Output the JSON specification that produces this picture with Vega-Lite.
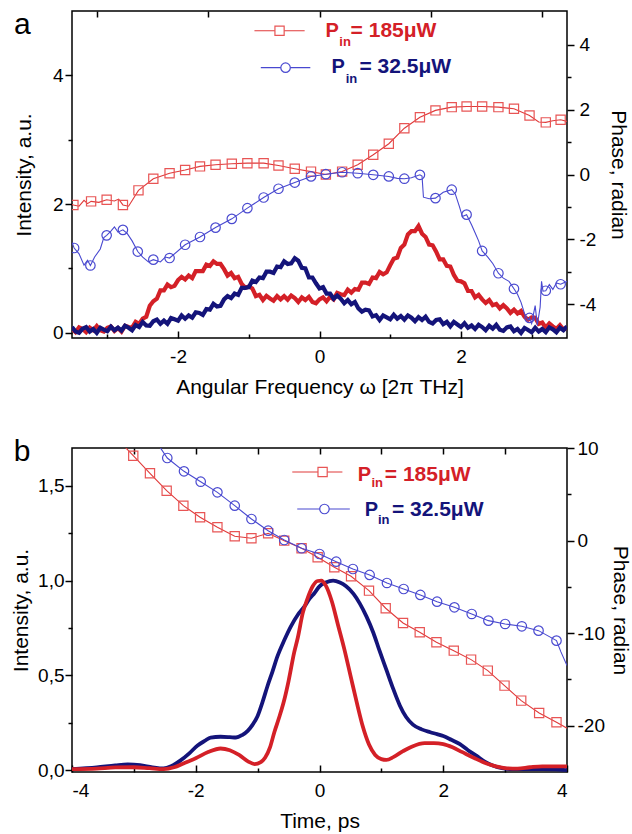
{
"$schema": "https://vega.github.io/schema/vega-lite/v6.json",
"padding": {"left": 9, "top": 9, "right": 0, "bottom": 2},
"background": "white",
"config": {
  "font": "Liberation Sans",
  "view": {"stroke": "#000", "strokeWidth": 1.5},
  "axis": {"domain": false, "grid": false, "labelFont": "Liberation Sans", "titleFont": "Liberation Sans", "labelFontSize": 19, "titleFontSize": 21, "titleFontWeight": "normal", "labelColor": "#000", "titleColor": "#000", "tickColor": "#000", "tickWidth": 1.5},
  "concat": {"spacing": 38}
},
"datasets": {
  "ia": [
    {"s":"185","x":-3.50,"y":0.06},{"s":"185","x":-3.45,"y":0.01},{"s":"185","x":-3.40,"y":0.085},{"s":"185","x":-3.35,"y":0.06},{"s":"185","x":-3.30,"y":0.01},{"s":"185","x":-3.25,"y":0.08},{"s":"185","x":-3.20,"y":0.04},{"s":"185","x":-3.15,"y":0.105},{"s":"185","x":-3.10,"y":0.04},{"s":"185","x":-3.05,"y":0.02},
    {"s":"185","x":-3.00,"y":0.08},{"s":"185","x":-2.95,"y":0.10},{"s":"185","x":-2.90,"y":0.03},{"s":"185","x":-2.85,"y":0.075},{"s":"185","x":-2.80,"y":0.02},{"s":"185","x":-2.75,"y":0.11},{"s":"185","x":-2.70,"y":0.09},{"s":"185","x":-2.65,"y":0.08},{"s":"185","x":-2.60,"y":0.17},{"s":"185","x":-2.55,"y":0.14},
    {"s":"185","x":-2.50,"y":0.22},{"s":"185","x":-2.45,"y":0.25},{"s":"185","x":-2.40,"y":0.42},{"s":"185","x":-2.35,"y":0.49},{"s":"185","x":-2.30,"y":0.53},{"s":"185","x":-2.25,"y":0.66},{"s":"185","x":-2.20,"y":0.66},{"s":"185","x":-2.15,"y":0.75},{"s":"185","x":-2.10,"y":0.71},{"s":"185","x":-2.05,"y":0.73},
    {"s":"185","x":-2.00,"y":0.82},{"s":"185","x":-1.95,"y":0.87},{"s":"185","x":-1.90,"y":0.83},{"s":"185","x":-1.85,"y":0.89},{"s":"185","x":-1.80,"y":0.85},{"s":"185","x":-1.75,"y":0.96},{"s":"185","x":-1.70,"y":0.96},{"s":"185","x":-1.65,"y":0.96},{"s":"185","x":-1.60,"y":1.06},{"s":"185","x":-1.55,"y":1.04},
    {"s":"185","x":-1.50,"y":1.11},{"s":"185","x":-1.45,"y":1.07},{"s":"185","x":-1.40,"y":1.07},{"s":"185","x":-1.35,"y":0.99},{"s":"185","x":-1.30,"y":0.89},{"s":"185","x":-1.25,"y":0.93},{"s":"185","x":-1.20,"y":0.85},{"s":"185","x":-1.15,"y":0.87},{"s":"185","x":-1.10,"y":0.76},{"s":"185","x":-1.05,"y":0.70},
    {"s":"185","x":-1.00,"y":0.72},{"s":"185","x":-0.95,"y":0.69},{"s":"185","x":-0.90,"y":0.57},{"s":"185","x":-0.85,"y":0.59},{"s":"185","x":-0.80,"y":0.51},{"s":"185","x":-0.75,"y":0.575},{"s":"185","x":-0.70,"y":0.535},{"s":"185","x":-0.65,"y":0.50},{"s":"185","x":-0.60,"y":0.57},{"s":"185","x":-0.55,"y":0.52},
    {"s":"185","x":-0.50,"y":0.57},{"s":"185","x":-0.45,"y":0.515},{"s":"185","x":-0.40,"y":0.58},{"s":"185","x":-0.35,"y":0.54},{"s":"185","x":-0.30,"y":0.48},{"s":"185","x":-0.25,"y":0.55},{"s":"185","x":-0.20,"y":0.51},{"s":"185","x":-0.15,"y":0.56},{"s":"185","x":-0.10,"y":0.48},{"s":"185","x":-0.05,"y":0.46},
    {"s":"185","x":0.00,"y":0.52},{"s":"185","x":0.05,"y":0.55},{"s":"185","x":0.10,"y":0.49},{"s":"185","x":0.15,"y":0.56},{"s":"185","x":0.20,"y":0.52},{"s":"185","x":0.25,"y":0.62},{"s":"185","x":0.30,"y":0.60},{"s":"185","x":0.35,"y":0.585},{"s":"185","x":0.40,"y":0.67},{"s":"185","x":0.45,"y":0.625},
    {"s":"185","x":0.50,"y":0.68},{"s":"185","x":0.55,"y":0.67},{"s":"185","x":0.60,"y":0.78},{"s":"185","x":0.65,"y":0.78},{"s":"185","x":0.70,"y":0.76},{"s":"185","x":0.75,"y":0.86},{"s":"185","x":0.80,"y":0.85},{"s":"185","x":0.85,"y":0.945},{"s":"185","x":0.90,"y":0.91},{"s":"185","x":0.95,"y":0.94},
    {"s":"185","x":1.00,"y":1.05},{"s":"185","x":1.05,"y":1.15},{"s":"185","x":1.10,"y":1.17},{"s":"185","x":1.15,"y":1.32},{"s":"185","x":1.20,"y":1.37},{"s":"185","x":1.25,"y":1.53},{"s":"185","x":1.30,"y":1.58},{"s":"185","x":1.35,"y":1.58},{"s":"185","x":1.40,"y":1.66},{"s":"185","x":1.45,"y":1.54},
    {"s":"185","x":1.50,"y":1.49},{"s":"185","x":1.55,"y":1.37},{"s":"185","x":1.60,"y":1.36},{"s":"185","x":1.65,"y":1.26},{"s":"185","x":1.70,"y":1.14},{"s":"185","x":1.75,"y":1.14},{"s":"185","x":1.80,"y":1.04},{"s":"185","x":1.85,"y":1.03},{"s":"185","x":1.90,"y":0.90},{"s":"185","x":1.95,"y":0.81},
    {"s":"185","x":2.00,"y":0.80},{"s":"185","x":2.05,"y":0.77},{"s":"185","x":2.10,"y":0.65},{"s":"185","x":2.15,"y":0.65},{"s":"185","x":2.20,"y":0.55},{"s":"185","x":2.25,"y":0.59},{"s":"185","x":2.30,"y":0.52},{"s":"185","x":2.35,"y":0.465},{"s":"185","x":2.40,"y":0.51},{"s":"185","x":2.45,"y":0.43},
    {"s":"185","x":2.50,"y":0.45},{"s":"185","x":2.55,"y":0.38},{"s":"185","x":2.60,"y":0.43},{"s":"185","x":2.65,"y":0.38},{"s":"185","x":2.70,"y":0.31},{"s":"185","x":2.75,"y":0.36},{"s":"185","x":2.80,"y":0.30},{"s":"185","x":2.85,"y":0.34},{"s":"185","x":2.90,"y":0.25},{"s":"185","x":2.95,"y":0.205},
    {"s":"185","x":3.00,"y":0.24},{"s":"185","x":3.05,"y":0.235},{"s":"185","x":3.10,"y":0.14},{"s":"185","x":3.15,"y":0.16},{"s":"185","x":3.20,"y":0.08},{"s":"185","x":3.25,"y":0.145},{"s":"185","x":3.30,"y":0.10},{"s":"185","x":3.35,"y":0.06},{"s":"185","x":3.40,"y":0.12},{"s":"185","x":3.45,"y":0.05},{"s":"185","x":3.50,"y":0.08},
    {"s":"32.5","x":-3.50,"y":0.09},{"s":"32.5","x":-3.45,"y":0.02},{"s":"32.5","x":-3.40,"y":0.00},{"s":"32.5","x":-3.35,"y":0.065},{"s":"32.5","x":-3.30,"y":0.09},{"s":"32.5","x":-3.25,"y":0.02},{"s":"32.5","x":-3.20,"y":0.06},{"s":"32.5","x":-3.15,"y":0.00},{"s":"32.5","x":-3.10,"y":0.08},{"s":"32.5","x":-3.05,"y":0.05},
    {"s":"32.5","x":-3.00,"y":0.025},{"s":"32.5","x":-2.95,"y":0.095},{"s":"32.5","x":-2.90,"y":0.04},{"s":"32.5","x":-2.85,"y":0.08},{"s":"32.5","x":-2.80,"y":0.035},{"s":"32.5","x":-2.75,"y":0.11},{"s":"32.5","x":-2.70,"y":0.08},{"s":"32.5","x":-2.65,"y":0.04},{"s":"32.5","x":-2.60,"y":0.12},{"s":"32.5","x":-2.55,"y":0.09},
    {"s":"32.5","x":-2.50,"y":0.17},{"s":"32.5","x":-2.45,"y":0.115},{"s":"32.5","x":-2.40,"y":0.11},{"s":"32.5","x":-2.35,"y":0.18},{"s":"32.5","x":-2.30,"y":0.205},{"s":"32.5","x":-2.25,"y":0.14},{"s":"32.5","x":-2.20,"y":0.19},{"s":"32.5","x":-2.15,"y":0.14},{"s":"32.5","x":-2.10,"y":0.23},{"s":"32.5","x":-2.05,"y":0.21},
    {"s":"32.5","x":-2.00,"y":0.19},{"s":"32.5","x":-1.95,"y":0.27},{"s":"32.5","x":-1.90,"y":0.22},{"s":"32.5","x":-1.85,"y":0.27},{"s":"32.5","x":-1.80,"y":0.235},{"s":"32.5","x":-1.75,"y":0.32},{"s":"32.5","x":-1.70,"y":0.31},{"s":"32.5","x":-1.65,"y":0.28},{"s":"32.5","x":-1.60,"y":0.37},{"s":"32.5","x":-1.55,"y":0.36},
    {"s":"32.5","x":-1.50,"y":0.45},{"s":"32.5","x":-1.45,"y":0.41},{"s":"32.5","x":-1.40,"y":0.42},{"s":"32.5","x":-1.35,"y":0.52},{"s":"32.5","x":-1.30,"y":0.57},{"s":"32.5","x":-1.25,"y":0.54},{"s":"32.5","x":-1.20,"y":0.61},{"s":"32.5","x":-1.15,"y":0.59},{"s":"32.5","x":-1.10,"y":0.70},{"s":"32.5","x":-1.05,"y":0.70},
    {"s":"32.5","x":-1.00,"y":0.71},{"s":"32.5","x":-0.95,"y":0.81},{"s":"32.5","x":-0.90,"y":0.79},{"s":"32.5","x":-0.85,"y":0.86},{"s":"32.5","x":-0.80,"y":0.85},{"s":"32.5","x":-0.75,"y":0.95},{"s":"32.5","x":-0.70,"y":0.95},{"s":"32.5","x":-0.65,"y":0.93},{"s":"32.5","x":-0.60,"y":1.03},{"s":"32.5","x":-0.55,"y":1.02},
    {"s":"32.5","x":-0.50,"y":1.11},{"s":"32.5","x":-0.45,"y":1.07},{"s":"32.5","x":-0.40,"y":1.08},{"s":"32.5","x":-0.35,"y":1.16},{"s":"32.5","x":-0.30,"y":1.12},{"s":"32.5","x":-0.25,"y":1.01},{"s":"32.5","x":-0.20,"y":1.00},{"s":"32.5","x":-0.15,"y":0.86},{"s":"32.5","x":-0.10,"y":0.86},{"s":"32.5","x":-0.05,"y":0.77},
    {"s":"32.5","x":0.00,"y":0.69},{"s":"32.5","x":0.05,"y":0.71},{"s":"32.5","x":0.10,"y":0.61},{"s":"32.5","x":0.15,"y":0.61},{"s":"32.5","x":0.20,"y":0.53},{"s":"32.5","x":0.25,"y":0.58},{"s":"32.5","x":0.30,"y":0.53},{"s":"32.5","x":0.35,"y":0.46},{"s":"32.5","x":0.40,"y":0.51},{"s":"32.5","x":0.45,"y":0.445},
    {"s":"32.5","x":0.50,"y":0.48},{"s":"32.5","x":0.55,"y":0.38},{"s":"32.5","x":0.60,"y":0.33},{"s":"32.5","x":0.65,"y":0.36},{"s":"32.5","x":0.70,"y":0.35},{"s":"32.5","x":0.75,"y":0.255},{"s":"32.5","x":0.80,"y":0.275},{"s":"32.5","x":0.85,"y":0.20},{"s":"32.5","x":0.90,"y":0.27},{"s":"32.5","x":0.95,"y":0.24},
    {"s":"32.5","x":1.00,"y":0.21},{"s":"32.5","x":1.05,"y":0.28},{"s":"32.5","x":1.10,"y":0.22},{"s":"32.5","x":1.15,"y":0.26},{"s":"32.5","x":1.20,"y":0.205},{"s":"32.5","x":1.25,"y":0.27},{"s":"32.5","x":1.30,"y":0.235},{"s":"32.5","x":1.35,"y":0.18},{"s":"32.5","x":1.40,"y":0.245},{"s":"32.5","x":1.45,"y":0.20},
    {"s":"32.5","x":1.50,"y":0.25},{"s":"32.5","x":1.55,"y":0.17},{"s":"32.5","x":1.60,"y":0.145},{"s":"32.5","x":1.65,"y":0.20},{"s":"32.5","x":1.70,"y":0.21},{"s":"32.5","x":1.75,"y":0.135},{"s":"32.5","x":1.80,"y":0.17},{"s":"32.5","x":1.85,"y":0.10},{"s":"32.5","x":1.90,"y":0.17},{"s":"32.5","x":1.95,"y":0.13},
    {"s":"32.5","x":2.00,"y":0.09},{"s":"32.5","x":2.05,"y":0.15},{"s":"32.5","x":2.10,"y":0.08},{"s":"32.5","x":2.15,"y":0.115},{"s":"32.5","x":2.20,"y":0.06},{"s":"32.5","x":2.25,"y":0.125},{"s":"32.5","x":2.30,"y":0.09},{"s":"32.5","x":2.35,"y":0.04},{"s":"32.5","x":2.40,"y":0.11},{"s":"32.5","x":2.45,"y":0.065},
    {"s":"32.5","x":2.50,"y":0.125},{"s":"32.5","x":2.55,"y":0.05},{"s":"32.5","x":2.60,"y":0.03},{"s":"32.5","x":2.65,"y":0.085},{"s":"32.5","x":2.70,"y":0.10},{"s":"32.5","x":2.75,"y":0.025},{"s":"32.5","x":2.80,"y":0.06},{"s":"32.5","x":2.85,"y":0.00},{"s":"32.5","x":2.90,"y":0.075},{"s":"32.5","x":2.95,"y":0.045},
    {"s":"32.5","x":3.00,"y":0.01},{"s":"32.5","x":3.05,"y":0.08},{"s":"32.5","x":3.10,"y":0.02},{"s":"32.5","x":3.15,"y":0.06},{"s":"32.5","x":3.20,"y":0.01},{"s":"32.5","x":3.25,"y":0.085},{"s":"32.5","x":3.30,"y":0.055},{"s":"32.5","x":3.35,"y":0.01},{"s":"32.5","x":3.40,"y":0.08},{"s":"32.5","x":3.45,"y":0.04},{"s":"32.5","x":3.50,"y":0.10}
  ],
  "pa": [
    {"s":"185","x":-3.50,"y":-0.92,"m":0},{"s":"185","x":-3.48,"y":-0.94,"m":1},{"s":"185","x":-3.40,"y":-0.98,"m":0},{"s":"185","x":-3.33,"y":-0.80,"m":0},{"s":"185","x":-3.28,"y":-0.90,"m":0},{"s":"185","x":-3.23,"y":-0.83,"m":1},{"s":"185","x":-3.12,"y":-0.86,"m":0},{"s":"185","x":-3.01,"y":-0.78,"m":1},{"s":"185","x":-2.90,"y":-0.82,"m":0},{"s":"185","x":-2.84,"y":-0.76,"m":0},{"s":"185","x":-2.78,"y":-0.94,"m":1},{"s":"185","x":-2.70,"y":-0.98,"m":0},
    {"s":"185","x":-2.56,"y":-0.49,"m":1},{"s":"185","x":-2.35,"y":-0.13,"m":1},{"s":"185","x":-2.12,"y":0.04,"m":1},{"s":"185","x":-1.90,"y":0.14,"m":1},{"s":"185","x":-1.69,"y":0.25,"m":1},{"s":"185","x":-1.47,"y":0.30,"m":1},{"s":"185","x":-1.24,"y":0.33,"m":1},{"s":"185","x":-1.02,"y":0.35,"m":1},{"s":"185","x":-0.79,"y":0.35,"m":1},{"s":"185","x":-0.58,"y":0.28,"m":1},{"s":"185","x":-0.35,"y":0.18,"m":1},{"s":"185","x":-0.12,"y":0.09,"m":1},
    {"s":"185","x":0.09,"y":0.00,"m":1},{"s":"185","x":0.32,"y":0.09,"m":1},{"s":"185","x":0.54,"y":0.30,"m":1},{"s":"185","x":0.76,"y":0.61,"m":1},{"s":"185","x":0.98,"y":0.95,"m":1},{"s":"185","x":1.20,"y":1.43,"m":1},{"s":"185","x":1.42,"y":1.77,"m":1},{"s":"185","x":1.64,"y":1.98,"m":1},{"s":"185","x":1.87,"y":2.08,"m":1},{"s":"185","x":2.08,"y":2.10,"m":1},{"s":"185","x":2.30,"y":2.10,"m":1},{"s":"185","x":2.53,"y":2.08,"m":1},{"s":"185","x":2.75,"y":2.03,"m":1},{"s":"185","x":2.97,"y":1.82,"m":1},{"s":"185","x":3.10,"y":1.62,"m":0},{"s":"185","x":3.20,"y":1.61,"m":1},{"s":"185","x":3.30,"y":1.66,"m":0},{"s":"185","x":3.41,"y":1.69,"m":1},{"s":"185","x":3.50,"y":1.64,"m":0},
    {"s":"32.5","x":-3.50,"y":-2.10,"m":0},{"s":"32.5","x":-3.47,"y":-2.27,"m":1},{"s":"32.5","x":-3.40,"y":-2.45,"m":0},{"s":"32.5","x":-3.33,"y":-2.80,"m":0},{"s":"32.5","x":-3.28,"y":-2.65,"m":0},{"s":"32.5","x":-3.24,"y":-2.81,"m":1},{"s":"32.5","x":-3.18,"y":-2.55,"m":0},{"s":"32.5","x":-3.10,"y":-2.30,"m":0},{"s":"32.5","x":-3.05,"y":-1.95,"m":0},{"s":"32.5","x":-3.01,"y":-1.88,"m":1},{"s":"32.5","x":-2.95,"y":-1.75,"m":0},{"s":"32.5","x":-2.90,"y":-1.62,"m":0},{"s":"32.5","x":-2.85,"y":-1.78,"m":0},{"s":"32.5","x":-2.78,"y":-1.71,"m":1},{"s":"32.5","x":-2.72,"y":-1.82,"m":0},{"s":"32.5","x":-2.65,"y":-2.05,"m":0},{"s":"32.5","x":-2.57,"y":-2.38,"m":1},{"s":"32.5","x":-2.50,"y":-2.55,"m":0},{"s":"32.5","x":-2.42,"y":-2.70,"m":0},{"s":"32.5","x":-2.35,"y":-2.63,"m":1},{"s":"32.5","x":-2.25,"y":-2.70,"m":0},{"s":"32.5","x":-2.18,"y":-2.55,"m":0},{"s":"32.5","x":-2.12,"y":-2.58,"m":1},
    {"s":"32.5","x":-1.90,"y":-2.17,"m":1},{"s":"32.5","x":-1.69,"y":-1.93,"m":1},{"s":"32.5","x":-1.47,"y":-1.64,"m":1},{"s":"32.5","x":-1.24,"y":-1.37,"m":1},{"s":"32.5","x":-1.02,"y":-1.04,"m":1},{"s":"32.5","x":-0.79,"y":-0.71,"m":1},{"s":"32.5","x":-0.58,"y":-0.44,"m":1},{"s":"32.5","x":-0.35,"y":-0.25,"m":1},{"s":"32.5","x":-0.12,"y":-0.06,"m":1},{"s":"32.5","x":0.09,"y":0.01,"m":1},{"s":"32.5","x":0.32,"y":0.07,"m":1},{"s":"32.5","x":0.54,"y":0.04,"m":1},{"s":"32.5","x":0.76,"y":-0.01,"m":1},{"s":"32.5","x":0.98,"y":-0.06,"m":1},{"s":"32.5","x":1.10,"y":-0.12,"m":0},{"s":"32.5","x":1.20,"y":-0.13,"m":1},{"s":"32.5","x":1.30,"y":-0.10,"m":0},{"s":"32.5","x":1.42,"y":-0.01,"m":1},{"s":"32.5","x":1.45,"y":-0.05,"m":0},{"s":"32.5","x":1.47,"y":-0.70,"m":0},{"s":"32.5","x":1.55,"y":-0.75,"m":0},{"s":"32.5","x":1.64,"y":-0.73,"m":1},{"s":"32.5","x":1.75,"y":-0.55,"m":0},{"s":"32.5","x":1.87,"y":-0.47,"m":1},
    {"s":"32.5","x":1.92,"y":-0.60,"m":0},{"s":"32.5","x":1.98,"y":-1.00,"m":0},{"s":"32.5","x":2.02,"y":-1.30,"m":0},{"s":"32.5","x":2.08,"y":-1.24,"m":1},{"s":"32.5","x":2.15,"y":-1.55,"m":0},{"s":"32.5","x":2.20,"y":-1.80,"m":0},{"s":"32.5","x":2.25,"y":-2.05,"m":0},{"s":"32.5","x":2.30,"y":-2.36,"m":1},{"s":"32.5","x":2.38,"y":-2.55,"m":0},{"s":"32.5","x":2.45,"y":-2.75,"m":0},{"s":"32.5","x":2.53,"y":-3.05,"m":1},{"s":"32.5","x":2.60,"y":-3.20,"m":0},{"s":"32.5","x":2.68,"y":-3.30,"m":0},{"s":"32.5","x":2.75,"y":-3.53,"m":1},{"s":"32.5","x":2.80,"y":-3.70,"m":0},{"s":"32.5","x":2.85,"y":-3.95,"m":0},{"s":"32.5","x":2.90,"y":-4.30,"m":0},{"s":"32.5","x":2.95,"y":-4.50,"m":0},{"s":"32.5","x":2.97,"y":-4.43,"m":1},{"s":"32.5","x":3.00,"y":-4.60,"m":0},{"s":"32.5","x":3.05,"y":-4.05,"m":0},{"s":"32.5","x":3.08,"y":-4.65,"m":0},{"s":"32.5","x":3.12,"y":-4.10,"m":0},{"s":"32.5","x":3.14,"y":-3.30,"m":0},{"s":"32.5","x":3.16,"y":-3.60,"m":0},{"s":"32.5","x":3.20,"y":-3.59,"m":1},{"s":"32.5","x":3.25,"y":-3.40,"m":0},{"s":"32.5","x":3.30,"y":-3.55,"m":0},{"s":"32.5","x":3.35,"y":-3.35,"m":0},{"s":"32.5","x":3.41,"y":-3.39,"m":1},{"s":"32.5","x":3.50,"y":-3.30,"m":0}
  ],
  "ib": [
    {"s":"185","x":-4.0,"y":0.005},{"s":"185","x":-3.6,"y":0.008},{"s":"185","x":-3.3,"y":0.014},{"s":"185","x":-3.0,"y":0.015},{"s":"185","x":-2.75,"y":0.01},{"s":"185","x":-2.52,"y":0.005},{"s":"185","x":-2.35,"y":0.015},{"s":"185","x":-2.2,"y":0.035},{"s":"185","x":-2.0,"y":0.063},{"s":"185","x":-1.8,"y":0.095},{"s":"185","x":-1.6,"y":0.114},{"s":"185","x":-1.45,"y":0.105},{"s":"185","x":-1.3,"y":0.08},{"s":"185","x":-1.15,"y":0.045},{"s":"185","x":-1.05,"y":0.032},{"s":"185","x":-0.95,"y":0.042},{"s":"185","x":-0.88,"y":0.065},{"s":"185","x":-0.8,"y":0.12},{"s":"185","x":-0.73,"y":0.2},{"s":"185","x":-0.65,"y":0.28},{"s":"185","x":-0.57,"y":0.37},{"s":"185","x":-0.5,"y":0.47},{"s":"185","x":-0.41,"y":0.62},{"s":"185","x":-0.35,"y":0.7},{"s":"185","x":-0.27,"y":0.83},{"s":"185","x":-0.2,"y":0.9},{"s":"185","x":-0.11,"y":0.97},{"s":"185","x":-0.03,"y":0.998},{"s":"185","x":0.03,"y":1.0},{"s":"185","x":0.1,"y":0.975},{"s":"185","x":0.2,"y":0.89},{"s":"185","x":0.3,"y":0.765},{"s":"185","x":0.4,"y":0.64},{"s":"185","x":0.5,"y":0.5},{"s":"185","x":0.6,"y":0.36},{"s":"185","x":0.7,"y":0.23},{"s":"185","x":0.8,"y":0.135},{"s":"185","x":0.9,"y":0.08},{"s":"185","x":1.0,"y":0.058},{"s":"185","x":1.08,"y":0.054},{"s":"185","x":1.2,"y":0.07},{"s":"185","x":1.35,"y":0.1},{"s":"185","x":1.5,"y":0.125},{"s":"185","x":1.7,"y":0.142},{"s":"185","x":1.85,"y":0.142},{"s":"185","x":2.0,"y":0.137},{"s":"185","x":2.15,"y":0.12},{"s":"185","x":2.3,"y":0.096},{"s":"185","x":2.5,"y":0.064},{"s":"185","x":2.7,"y":0.035},{"s":"185","x":2.85,"y":0.02},{"s":"185","x":3.0,"y":0.01},{"s":"185","x":3.2,"y":0.008},{"s":"185","x":3.4,"y":0.015},{"s":"185","x":3.6,"y":0.02},{"s":"185","x":3.8,"y":0.02},{"s":"185","x":4.0,"y":0.02},
    {"s":"32.5","x":-4.0,"y":0.005},{"s":"32.5","x":-3.6,"y":0.014},{"s":"32.5","x":-3.3,"y":0.025},{"s":"32.5","x":-3.1,"y":0.03},{"s":"32.5","x":-2.9,"y":0.026},{"s":"32.5","x":-2.7,"y":0.015},{"s":"32.5","x":-2.52,"y":0.009},{"s":"32.5","x":-2.4,"y":0.02},{"s":"32.5","x":-2.25,"y":0.05},{"s":"32.5","x":-2.1,"y":0.09},{"s":"32.5","x":-1.97,"y":0.13},{"s":"32.5","x":-1.85,"y":0.155},{"s":"32.5","x":-1.76,"y":0.172},{"s":"32.5","x":-1.6,"y":0.176},{"s":"32.5","x":-1.45,"y":0.174},{"s":"32.5","x":-1.35,"y":0.172},{"s":"32.5","x":-1.25,"y":0.185},{"s":"32.5","x":-1.16,"y":0.207},{"s":"32.5","x":-1.08,"y":0.24},{"s":"32.5","x":-1.0,"y":0.286},{"s":"32.5","x":-0.92,"y":0.36},{"s":"32.5","x":-0.84,"y":0.444},{"s":"32.5","x":-0.76,"y":0.52},{"s":"32.5","x":-0.68,"y":0.6},{"s":"32.5","x":-0.57,"y":0.685},{"s":"32.5","x":-0.46,"y":0.76},{"s":"32.5","x":-0.35,"y":0.82},{"s":"32.5","x":-0.24,"y":0.865},{"s":"32.5","x":-0.16,"y":0.905},{"s":"32.5","x":-0.08,"y":0.935},{"s":"32.5","x":0.0,"y":0.97},{"s":"32.5","x":0.1,"y":0.99},{"s":"32.5","x":0.22,"y":1.0},{"s":"32.5","x":0.33,"y":0.99},{"s":"32.5","x":0.43,"y":0.97},{"s":"32.5","x":0.55,"y":0.93},{"s":"32.5","x":0.65,"y":0.88},{"s":"32.5","x":0.76,"y":0.81},{"s":"32.5","x":0.87,"y":0.725},{"s":"32.5","x":0.97,"y":0.63},{"s":"32.5","x":1.08,"y":0.53},{"s":"32.5","x":1.19,"y":0.43},{"s":"32.5","x":1.3,"y":0.34},{"s":"32.5","x":1.4,"y":0.28},{"s":"32.5","x":1.51,"y":0.24},{"s":"32.5","x":1.65,"y":0.215},{"s":"32.5","x":1.79,"y":0.2},{"s":"32.5","x":1.9,"y":0.19},{"s":"32.5","x":2.0,"y":0.18},{"s":"32.5","x":2.13,"y":0.16},{"s":"32.5","x":2.27,"y":0.137},{"s":"32.5","x":2.4,"y":0.105},{"s":"32.5","x":2.54,"y":0.075},{"s":"32.5","x":2.67,"y":0.045},{"s":"32.5","x":2.81,"y":0.023},{"s":"32.5","x":2.95,"y":0.01},{"s":"32.5","x":3.08,"y":0.005},{"s":"32.5","x":3.3,"y":0.005},{"s":"32.5","x":3.6,"y":0.005},{"s":"32.5","x":3.8,"y":0.004},{"s":"32.5","x":4.0,"y":0.0}
  ],
  "pb": [
    {"s":"185","x":-3.2,"y":10.5,"m":0},{"s":"185","x":-3.01,"y":9.17,"m":1},{"s":"185","x":-2.74,"y":7.27,"m":1},{"s":"185","x":-2.47,"y":5.39,"m":1},{"s":"185","x":-2.20,"y":3.77,"m":1},{"s":"185","x":-1.93,"y":2.52,"m":1},{"s":"185","x":-1.65,"y":1.44,"m":1},{"s":"185","x":-1.37,"y":0.46,"m":1},{"s":"185","x":-1.10,"y":0.25,"m":1},{"s":"185","x":-0.83,"y":0.79,"m":1},{"s":"185","x":-0.57,"y":-0.01,"m":1},{"s":"185","x":-0.29,"y":-0.83,"m":1},{"s":"185","x":-0.03,"y":-1.80,"m":1},{"s":"185","x":0.24,"y":-2.89,"m":1},{"s":"185","x":0.51,"y":-3.86,"m":1},{"s":"185","x":0.80,"y":-5.41,"m":1},{"s":"185","x":1.07,"y":-7.31,"m":1},{"s":"185","x":1.35,"y":-8.90,"m":1},{"s":"185","x":1.62,"y":-9.91,"m":1},{"s":"185","x":1.89,"y":-10.98,"m":1},{"s":"185","x":2.17,"y":-11.89,"m":1},{"s":"185","x":2.45,"y":-12.86,"m":1},{"s":"185","x":2.72,"y":-14.05,"m":1},{"s":"185","x":2.99,"y":-15.67,"m":1},{"s":"185","x":3.26,"y":-17.29,"m":1},{"s":"185","x":3.55,"y":-18.62,"m":1},{"s":"185","x":3.83,"y":-19.62,"m":1},{"s":"185","x":4.0,"y":-20.27,"m":0},
    {"s":"32.5","x":-2.58,"y":10.1,"m":0},{"s":"32.5","x":-2.46,"y":8.92,"m":1},{"s":"32.5","x":-2.19,"y":7.48,"m":1},{"s":"32.5","x":-1.92,"y":6.36,"m":1},{"s":"32.5","x":-1.65,"y":5.21,"m":1},{"s":"32.5","x":-1.37,"y":3.77,"m":1},{"s":"32.5","x":-1.10,"y":2.33,"m":1},{"s":"32.5","x":-0.83,"y":1.07,"m":1},{"s":"32.5","x":-0.57,"y":0.06,"m":1},{"s":"32.5","x":-0.29,"y":-0.83,"m":1},{"s":"32.5","x":0.0,"y":-1.45,"m":1},{"s":"32.5","x":0.27,"y":-2.28,"m":1},{"s":"32.5","x":0.54,"y":-3.07,"m":1},{"s":"32.5","x":0.81,"y":-3.71,"m":1},{"s":"32.5","x":1.09,"y":-4.58,"m":1},{"s":"32.5","x":1.36,"y":-5.23,"m":1},{"s":"32.5","x":1.63,"y":-5.87,"m":1},{"s":"32.5","x":1.90,"y":-6.60,"m":1},{"s":"32.5","x":2.18,"y":-7.21,"m":1},{"s":"32.5","x":2.46,"y":-7.93,"m":1},{"s":"32.5","x":2.73,"y":-8.65,"m":1},{"s":"32.5","x":3.00,"y":-9.01,"m":1},{"s":"32.5","x":3.27,"y":-9.26,"m":1},{"s":"32.5","x":3.54,"y":-9.73,"m":1},{"s":"32.5","x":3.83,"y":-10.81,"m":1},{"s":"32.5","x":3.90,"y":-12.0,"m":0},{"s":"32.5","x":4.0,"y":-13.5,"m":0}
  ],
  "lta": [
    {"s":"185","k":"P","x":0.085,"y":4.60,"t":"P"},{"s":"185","k":"in","x":0.28,"y":4.45,"t":"in"},{"s":"185","k":"v","x":0.44,"y":4.60,"t":"= 185μW"},
    {"s":"32.5","k":"P","x":0.17,"y":4.03,"t":"P"},{"s":"32.5","k":"in","x":0.37,"y":3.88,"t":"in"},{"s":"32.5","k":"v","x":0.565,"y":4.03,"t":"= 32.5μW"}
  ],
  "lra": [{"s":"185","x":-0.92,"x2":-0.21,"y":4.44},{"s":"32.5","x":-0.83,"x2":-0.13,"y":3.30}],
  "lma": [{"s":"185","x":-0.565,"y":4.44},{"s":"32.5","x":-0.48,"y":3.30}],
  "ltb": [
    {"s":"185","k":"P","x":0.62,"y":1.526,"t":"P"},{"s":"185","k":"in","x":0.84,"y":1.494,"t":"in"},{"s":"185","k":"v","x":1.055,"y":1.526,"t":"= 185μW"},
    {"s":"32.5","k":"P","x":0.73,"y":1.341,"t":"P"},{"s":"32.5","k":"in","x":0.945,"y":1.299,"t":"in"},{"s":"32.5","k":"v","x":1.17,"y":1.341,"t":"= 32.5μW"}
  ],
  "lrb": [{"s":"185","x":-0.44,"x2":0.37,"y":7.41},{"s":"32.5","x":-0.36,"x2":0.49,"y":3.41}],
  "lmb": [{"s":"185","x":0.05,"y":7.41},{"s":"32.5","x":0.08,"y":3.41}],
  "pla": [{"x":-4.32,"y":4.643,"t":"a"}],
  "plb": [{"x":-4.94,"y":1.631,"t":"b"}]
},
"vconcat": [
  {
    "width": 495, "height": 327,
    "layer": [
      {
        "encoding": {
          "x": {"field": "x", "type": "quantitative", "scale": {"domain": [-3.5, 3.5], "nice": false, "zero": false},
                "axis": {"orient": "bottom", "title": "Angular Frequency ω [2π THz]", "values": [-3,-2,-1,0,1,2,3], "labelExpr": "datum.value % 2 == 0 ? '' + datum.value : ''", "tickSize": {"condition": {"test": "datum.value % 2 == 0", "value": -7}, "value": -4}, "labelPadding": 16, "titlePadding": 10}},
          "y": {"field": "y", "type": "quantitative", "scale": {"domain": [-0.08, 5], "nice": false, "zero": false},
                "axis": {"orient": "left", "title": "Intensity, a.u.", "values": [0,1,2,3,4], "labelExpr": "datum.value % 2 == 0 ? '' + datum.value : ''", "tickSize": {"condition": {"test": "datum.value % 2 == 0", "value": 7}, "value": 4}, "labelPadding": 2, "titlePadding": 18}},
          "color": {"field": "s", "type": "nominal", "scale": {"domain": ["185", "32.5"], "range": ["#d42027", "#14147a"]}, "legend": null}
        },
        "layer": [
          {"data": {"name": "ia"}, "transform": [{"filter": "datum.s == '185'"}], "mark": {"type": "line", "strokeWidth": 4.2, "clip": true}},
          {"data": {"name": "ia"}, "transform": [{"filter": "datum.s == '32.5'"}], "mark": {"type": "line", "strokeWidth": 4.2, "clip": true}},
          {"data": {"name": "lta"}, "transform": [{"filter": "datum.k == 'P'"}], "mark": {"type": "text", "align": "left", "baseline": "alphabetic", "fontSize": 20, "fontWeight": "bold", "font": "Liberation Sans"}, "encoding": {"text": {"field": "t"}}},
          {"data": {"name": "lta"}, "transform": [{"filter": "datum.k == 'in'"}], "mark": {"type": "text", "align": "left", "baseline": "alphabetic", "fontSize": 13, "fontWeight": "bold", "font": "Liberation Sans"}, "encoding": {"text": {"field": "t"}}},
          {"data": {"name": "lta"}, "transform": [{"filter": "datum.k == 'v'"}], "mark": {"type": "text", "align": "left", "baseline": "alphabetic", "fontSize": 21, "fontWeight": "bold", "font": "Liberation Sans"}, "encoding": {"text": {"field": "t"}}},
          {"data": {"name": "pla"}, "mark": {"type": "text", "align": "left", "baseline": "alphabetic", "fontSize": 30, "font": "Liberation Sans"}, "encoding": {"text": {"field": "t"}, "color": {"value": "#000"}}}
        ]
      },
      {
        "encoding": {
          "x": {"field": "x", "type": "quantitative", "scale": {"domain": [-3.5, 3.5], "nice": false, "zero": false},
                "axis": {"orient": "top", "title": null, "labels": false, "values": [-3.14159, -1.5708, 0, 1.5708, 3.14159], "tickSize": -6}},
          "y": {"field": "y", "type": "quantitative", "scale": {"domain": [-5.05, 5.05], "nice": false, "zero": false},
                "axis": {"orient": "right", "title": "Phase, radian", "values": [-4,-3,-2,-1,0,1,2,3,4], "labelExpr": "datum.value % 2 == 0 ? '' + datum.value : ''", "tickSize": {"condition": {"test": "datum.value % 2 == 0", "value": 7}, "value": 4}, "labelPadding": 5, "titlePadding": 12}}
        },
        "layer": [
          {"data": {"name": "pa"}, "transform": [{"filter": "datum.s == '185'"}], "mark": {"type": "line", "color": "#e03a3a", "strokeWidth": 1.1, "clip": true}},
          {"data": {"name": "pa"}, "transform": [{"filter": "datum.s == '185' && datum.m == 1"}], "mark": {"type": "point", "shape": "square", "filled": false, "color": "#e85555", "size": 85, "strokeWidth": 1.2, "opacity": 1, "clip": true}},
          {"data": {"name": "pa"}, "transform": [{"filter": "datum.s == '32.5'"}], "mark": {"type": "line", "color": "#4848d0", "strokeWidth": 1.1, "clip": true}},
          {"data": {"name": "pa"}, "transform": [{"filter": "datum.s == '32.5' && datum.m == 1"}], "mark": {"type": "point", "shape": "circle", "filled": false, "color": "#4a4ad0", "size": 90, "strokeWidth": 1.2, "opacity": 1, "clip": true}},
          {"data": {"name": "lra"}, "transform": [{"filter": "datum.s == '185'"}], "mark": {"type": "rule", "color": "#e03a3a", "strokeWidth": 1.1}, "encoding": {"x2": {"field": "x2"}}},
          {"data": {"name": "lra"}, "transform": [{"filter": "datum.s == '32.5'"}], "mark": {"type": "rule", "color": "#4848d0", "strokeWidth": 1.1}, "encoding": {"x2": {"field": "x2"}}},
          {"data": {"name": "lma"}, "transform": [{"filter": "datum.s == '185'"}], "mark": {"type": "point", "shape": "square", "filled": false, "color": "#e85555", "size": 85, "strokeWidth": 1.2, "opacity": 1, "fill": "white"}},
          {"data": {"name": "lma"}, "transform": [{"filter": "datum.s == '32.5'"}], "mark": {"type": "point", "shape": "circle", "filled": false, "color": "#4a4ad0", "size": 90, "strokeWidth": 1.2, "opacity": 1, "fill": "white"}}
        ]
      }
    ],
    "resolve": {"scale": {"y": "independent"}, "axis": {"x": "independent"}}
  },
  {
    "width": 495, "height": 324,
    "layer": [
      {
        "encoding": {
          "x": {"field": "x", "type": "quantitative", "scale": {"domain": [-4, 4], "nice": false, "zero": false},
                "axis": {"orient": "bottom", "title": "Time, ps", "values": [-4,-3,-2,-1,0,1,2,3,4], "labelExpr": "datum.value % 2 == 0 ? '' + datum.value : ''", "tickSize": {"condition": {"test": "datum.value % 2 == 0", "value": -7}, "value": -4}, "labelPadding": 16, "titlePadding": 10}},
          "y": {"field": "y", "type": "quantitative", "scale": {"domain": [-0.01, 1.7], "nice": false, "zero": false},
                "axis": {"orient": "left", "title": "Intensity, a.u.", "values": [0,0.25,0.5,0.75,1,1.25,1.5], "labelExpr": "(datum.value * 2) % 1 == 0 ? replace(format(datum.value, '.1f'), '.', ',') : ''", "tickSize": {"condition": {"test": "(datum.value * 2) % 1 == 0", "value": 7}, "value": 4}, "labelPadding": 1, "titlePadding": 6}},
          "color": {"field": "s", "type": "nominal", "scale": {"domain": ["185", "32.5"], "range": ["#d42027", "#14147a"]}, "legend": null}
        },
        "layer": [
          {"data": {"name": "ib"}, "transform": [{"filter": "datum.s == '32.5'"}], "mark": {"type": "line", "strokeWidth": 3.8, "interpolate": "monotone", "clip": true}},
          {"data": {"name": "ib"}, "transform": [{"filter": "datum.s == '185'"}], "mark": {"type": "line", "strokeWidth": 3.8, "interpolate": "monotone", "clip": true}},
          {"data": {"name": "ltb"}, "transform": [{"filter": "datum.k == 'P'"}], "mark": {"type": "text", "align": "left", "baseline": "alphabetic", "fontSize": 20, "fontWeight": "bold", "font": "Liberation Sans"}, "encoding": {"text": {"field": "t"}}},
          {"data": {"name": "ltb"}, "transform": [{"filter": "datum.k == 'in'"}], "mark": {"type": "text", "align": "left", "baseline": "alphabetic", "fontSize": 13, "fontWeight": "bold", "font": "Liberation Sans"}, "encoding": {"text": {"field": "t"}}},
          {"data": {"name": "ltb"}, "transform": [{"filter": "datum.k == 'v'"}], "mark": {"type": "text", "align": "left", "baseline": "alphabetic", "fontSize": 21, "fontWeight": "bold", "font": "Liberation Sans"}, "encoding": {"text": {"field": "t"}}},
          {"data": {"name": "plb"}, "mark": {"type": "text", "align": "left", "baseline": "alphabetic", "fontSize": 30, "font": "Liberation Sans"}, "encoding": {"text": {"field": "t"}, "color": {"value": "#000"}}}
        ]
      },
      {
        "encoding": {
          "x": {"field": "x", "type": "quantitative", "scale": {"domain": [-4, 4], "nice": false, "zero": false},
                "axis": {"orient": "top", "title": null, "labels": false, "values": [-3,-2,-1,0,1,2,3], "tickSize": -6}},
          "y": {"field": "y", "type": "quantitative", "scale": {"domain": [-25, 10], "nice": false, "zero": false},
                "axis": {"orient": "right", "title": "Phase, radian", "values": [-20,-15,-10,-5,0,5,10], "labelExpr": "datum.value % 10 == 0 ? '' + datum.value : ''", "tickSize": {"condition": {"test": "datum.value % 10 == 0", "value": 7}, "value": 4}, "labelPadding": 3, "titlePadding": 5}}
        },
        "layer": [
          {"data": {"name": "pb"}, "transform": [{"filter": "datum.s == '185'"}], "mark": {"type": "line", "color": "#e03a3a", "strokeWidth": 1.1, "clip": true}},
          {"data": {"name": "pb"}, "transform": [{"filter": "datum.s == '185' && datum.m == 1"}], "mark": {"type": "point", "shape": "square", "filled": false, "color": "#e85555", "size": 85, "strokeWidth": 1.2, "opacity": 1, "clip": true}},
          {"data": {"name": "pb"}, "transform": [{"filter": "datum.s == '32.5'"}], "mark": {"type": "line", "color": "#4848d0", "strokeWidth": 1.1, "clip": true}},
          {"data": {"name": "pb"}, "transform": [{"filter": "datum.s == '32.5' && datum.m == 1"}], "mark": {"type": "point", "shape": "circle", "filled": false, "color": "#4a4ad0", "size": 90, "strokeWidth": 1.2, "opacity": 1, "clip": true}},
          {"data": {"name": "lrb"}, "transform": [{"filter": "datum.s == '185'"}], "mark": {"type": "rule", "color": "#e03a3a", "strokeWidth": 1.1}, "encoding": {"x2": {"field": "x2"}}},
          {"data": {"name": "lrb"}, "transform": [{"filter": "datum.s == '32.5'"}], "mark": {"type": "rule", "color": "#4848d0", "strokeWidth": 1.1}, "encoding": {"x2": {"field": "x2"}}},
          {"data": {"name": "lmb"}, "transform": [{"filter": "datum.s == '185'"}], "mark": {"type": "point", "shape": "square", "filled": false, "color": "#e85555", "size": 85, "strokeWidth": 1.2, "opacity": 1, "fill": "white"}},
          {"data": {"name": "lmb"}, "transform": [{"filter": "datum.s == '32.5'"}], "mark": {"type": "point", "shape": "circle", "filled": false, "color": "#4a4ad0", "size": 90, "strokeWidth": 1.2, "opacity": 1, "fill": "white"}}
        ]
      }
    ],
    "resolve": {"scale": {"y": "independent"}, "axis": {"x": "independent"}}
  }
]
}
